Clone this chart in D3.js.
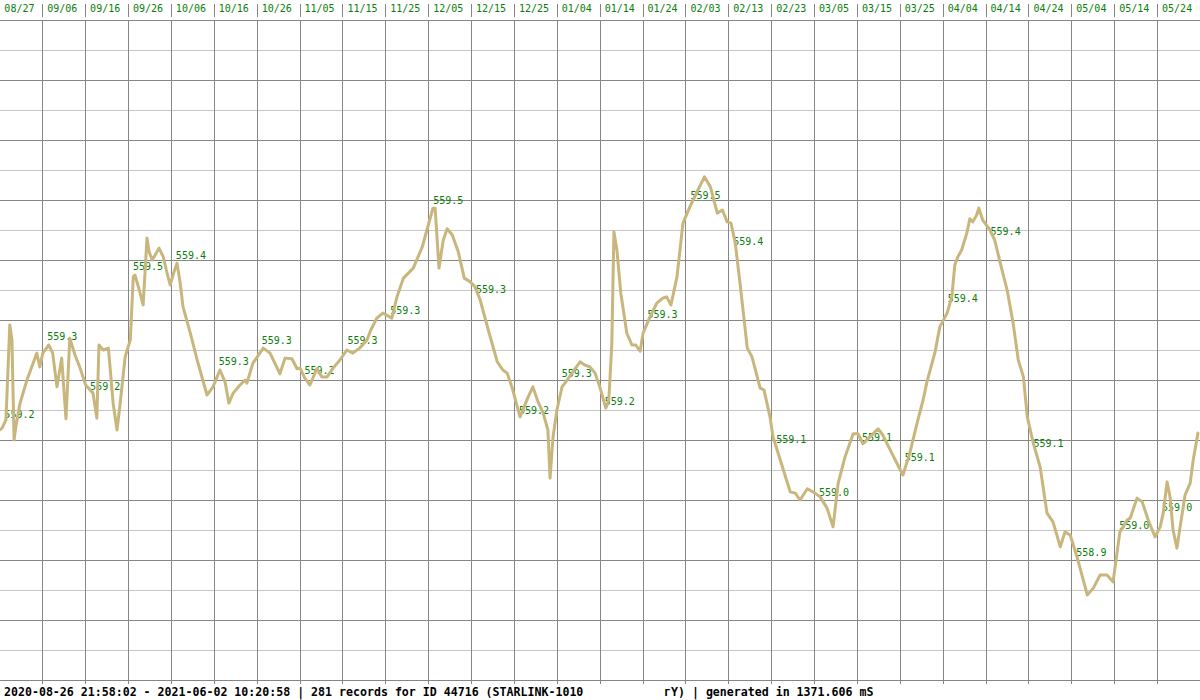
<!DOCTYPE html>
<html><head><meta charset="utf-8">
<script src="https://cdn.jsdelivr.net/npm/d3@7"></script>
<style>html,body{margin:0;padding:0;background:#fff;}svg{display:block}</style>
</head><body>
<svg id="c" width="1200" height="700"></svg>
<script>
// Orbit record window
const startTime = "2020-08-26T21:58:02Z";
const endTime = "2021-06-02T10:20:58Z";

// Days elapsed since first record
const recordDays = [0.0,0.6,1.5,2.4,2.9,3.4,3.8,4.8,6.4,8.7,9.4,10.1,11.5,12.4,13.4,14.5,15.5,16.4,17.6,18.7,20.1,21.8,22.7,23.2,24.2,25.4,26.5,27.4,28.1,29.3,30.5,31.2,31.6,32.6,33.5,34.4,34.9,35.6,36.3,37.2,38.2,38.9,39.8,40.7,41.4,42.1,42.8,44.5,46.1,48.4,49.8,51.4,52.6,53.5,54.5,56.1,57.3,57.7,59.1,61.5,63.1,65.4,66.6,68.2,69.4,70.1,71.2,72.4,74.0,75.2,76.4,77.8,79.4,81.0,82.4,84.0,85.7,86.6,88.0,89.4,90.3,91.5,92.7,94.2,96.5,98.6,100.0,101.1,101.6,102.5,103.5,104.4,105.6,107.0,108.4,109.8,110.9,112.1,114.0,116.1,117.4,118.4,119.5,121.4,123.3,124.4,125.6,126.8,127.9,128.4,129.1,130.0,131.2,132.4,133.5,135.4,136.5,137.7,138.9,140.0,141.4,142.1,142.8,143.3,144.0,144.9,146.3,147.5,148.4,149.4,150.1,151.7,153.3,154.7,155.6,156.6,158.0,159.4,161.0,162.9,164.4,165.8,167.4,168.6,169.7,170.6,171.6,172.7,174.4,175.5,177.4,178.3,179.7,180.4,182.1,184.4,185.6,186.7,188.4,190.2,191.4,193.0,194.4,195.6,197.2,199.1,200.2,201.4,203.0,204.9,206.0,208.1,209.5,210.7,212.3,214.0,215.4,216.3,218.2,219.3,221.0,222.1,222.8,223.5,224.4,225.6,226.3,227.0,227.9,228.4,229.3,231.0,232.1,233.4,235.0,236.4,237.6,238.8,239.7,241.1,242.7,244.3,245.7,247.4,248.5,249.7,251.3,253.7,255.1,256.7,258.3,259.7,261.3,263.0,263.7,265.3,266.5,267.9,269.5,270.7,271.4,272.3,273.0,273.7,274.6,275.3,276.5,277.7,278.4,279.5];

// Altitude (km)
const altitudeKm = [559.120,559.123,559.136,559.288,559.264,559.104,559.125,559.163,559.200,559.243,559.221,559.243,559.256,559.243,559.189,559.235,559.138,559.267,559.240,559.221,559.192,559.179,559.139,559.256,559.248,559.251,559.163,559.120,559.160,559.237,559.264,559.365,559.368,559.344,559.320,559.427,559.405,559.392,559.400,559.411,559.397,559.376,559.352,559.373,559.387,559.357,559.317,559.275,559.232,559.176,559.189,559.216,559.197,559.163,559.179,559.192,559.200,559.195,559.227,559.251,559.243,559.210,559.235,559.234,559.218,559.219,559.203,559.192,559.218,559.205,559.205,559.219,559.232,559.248,559.243,559.251,559.264,559.280,559.299,559.307,559.304,559.299,559.333,559.363,559.379,559.413,559.448,559.475,559.475,559.379,559.424,559.442,559.432,559.405,559.363,559.357,559.349,559.328,559.280,559.229,559.216,559.211,559.189,559.141,559.173,559.189,559.165,559.147,559.120,559.043,559.109,559.152,559.189,559.200,559.211,559.229,559.224,559.221,559.211,559.189,559.155,559.168,559.256,559.437,559.408,559.339,559.275,559.256,559.256,559.246,559.275,559.301,559.323,559.331,559.333,559.320,559.365,559.451,559.477,559.504,559.525,559.509,559.467,559.472,559.453,559.451,559.419,559.355,559.251,559.237,559.187,559.184,559.141,559.109,559.072,559.021,559.019,559.008,559.026,559.019,559.013,558.995,558.965,559.035,559.077,559.114,559.114,559.098,559.109,559.122,559.112,559.083,559.064,559.048,559.083,559.131,559.168,559.197,559.245,559.285,559.307,559.333,559.384,559.397,559.408,559.435,559.458,559.453,559.464,559.475,559.456,559.440,559.424,559.387,559.344,559.291,559.232,559.205,559.141,559.099,559.061,558.987,558.973,558.933,558.957,558.952,558.917,558.856,558.867,558.888,558.888,558.877,558.957,558.976,558.979,559.011,559.005,558.976,558.949,558.965,558.987,559.037,559.013,558.960,558.931,558.963,559.016,559.035,559.072,559.115];

// Tick dates (10-day grid)
const tickDates = ["2020-08-27","2020-09-06","2020-09-16","2020-09-26","2020-10-06","2020-10-16","2020-10-26","2020-11-05","2020-11-15","2020-11-25","2020-12-05","2020-12-15","2020-12-25","2021-01-04","2021-01-14","2021-01-24","2021-02-03","2021-02-13","2021-02-23","2021-03-05","2021-03-15","2021-03-25","2021-04-04","2021-04-14","2021-04-24","2021-05-04","2021-05-14","2021-05-24"];

// Value labels shown at each tick, and the altitude of the labelled record
const pointLabels = ["559.2","559.3","559.2","559.5","559.4","559.3","559.3","559.2","559.3","559.3","559.5","559.3","559.2","559.3","559.2","559.3","559.5","559.4","559.1","559.0","559.1","559.1","559.4","559.4","559.1","558.9","559.0","559.0"];
const labelAnchorKm = [559.139,559.264,559.184,559.376,559.394,559.224,559.258,559.210,559.258,559.306,559.482,559.339,559.146,559.205,559.160,559.299,559.490,559.416,559.099,559.014,559.102,559.070,559.325,559.432,559.093,558.918,558.962,558.990];

const footerLeft = "2020-08-26 21:58:02 - 2021-06-02 10:20:58 | 281 records for ID 44716 (STARLINK-1010";
const footerRight = "гҮ) | generated in 1371.606 mS";

const svg = d3.select("#c");
const DAY = 864e5;
const t0 = new Date(startTime), t1 = new Date(endTime);
const x = d3.scaleUtc().domain([t0, t1]).range([-0.5, 1198]);
const y = d3.scaleLinear().domain([558.72, 559.776]).range([680, 20]);
const fmt = d3.utcFormat("%m/%d");
const ticks = tickDates.map(s => new Date(s + "T00:00:00Z"));
const data = recordDays.map((d, i) => ({date: new Date(+t0 + d * DAY), v: altitudeKm[i]}));

const green = "#0b7d0b";
const mono = "'DejaVu Sans Mono', 'Liberation Mono', monospace";

svg.append("rect").attr("width", 1200).attr("height", 700).attr("fill", "#fff");

// horizontal grid
const gH = svg.append("g");
d3.range(0, 23).forEach(i => {
  const py = 20 + i * 30 + 0.5;
  gH.append("line").attr("x1", 0).attr("x2", 1200).attr("y1", py).attr("y2", py)
    .attr("stroke", i % 2 === 0 ? "#868686" : "#c6c6c6").attr("stroke-width", 1);
});

// vertical grid + header separators
const gV = svg.append("g");
ticks.forEach(t => {
  const px = Math.floor(x(t)) + 0.5;
  if (px < 1) return;
  gV.append("line").attr("x1", px).attr("x2", px).attr("y1", 20).attr("y2", 684)
    .attr("stroke", "#868686").attr("stroke-width", 1);
  gV.append("line").attr("x1", px).attr("x2", px).attr("y1", 4).attr("y2", 17)
    .attr("stroke", "#868686").attr("stroke-width", 1);
});

// header date labels
svg.append("g").selectAll("text").data(ticks).join("text")
  .attr("x", d => x(d) + 4.5).attr("y", 11.8)
  .attr("font-family", mono).attr("font-size", 10).attr("fill", green)
  .text(d => fmt(d));

// value labels
svg.append("g").selectAll("text").data(pointLabels).join("text")
  .attr("x", (d, i) => x(ticks[i]) + 4.5).attr("y", (d, i) => y(labelAnchorKm[i]))
  .attr("font-family", mono).attr("font-size", 10).attr("fill", green)
  .text(d => d);

// altitude line
svg.append("path").datum(data)
  .attr("fill", "none").attr("stroke", "#c8b67d").attr("stroke-width", 3)
  .attr("stroke-linejoin", "round").attr("stroke-linecap", "round")
  .attr("d", d3.line().x(d => x(d.date)).y(d => y(d.v)));

// footer
svg.append("text").attr("x", 4).attr("y", 695.5)
  .attr("font-family", mono).attr("font-weight", "bold").attr("font-size", 11.6).attr("fill", "#000")
  .text(footerLeft);
svg.append("text").attr("x", 664).attr("y", 695.5)
  .attr("font-family", mono).attr("font-weight", "bold").attr("font-size", 11.6).attr("fill", "#000")
  .text(footerRight);
</script>
</body></html>
